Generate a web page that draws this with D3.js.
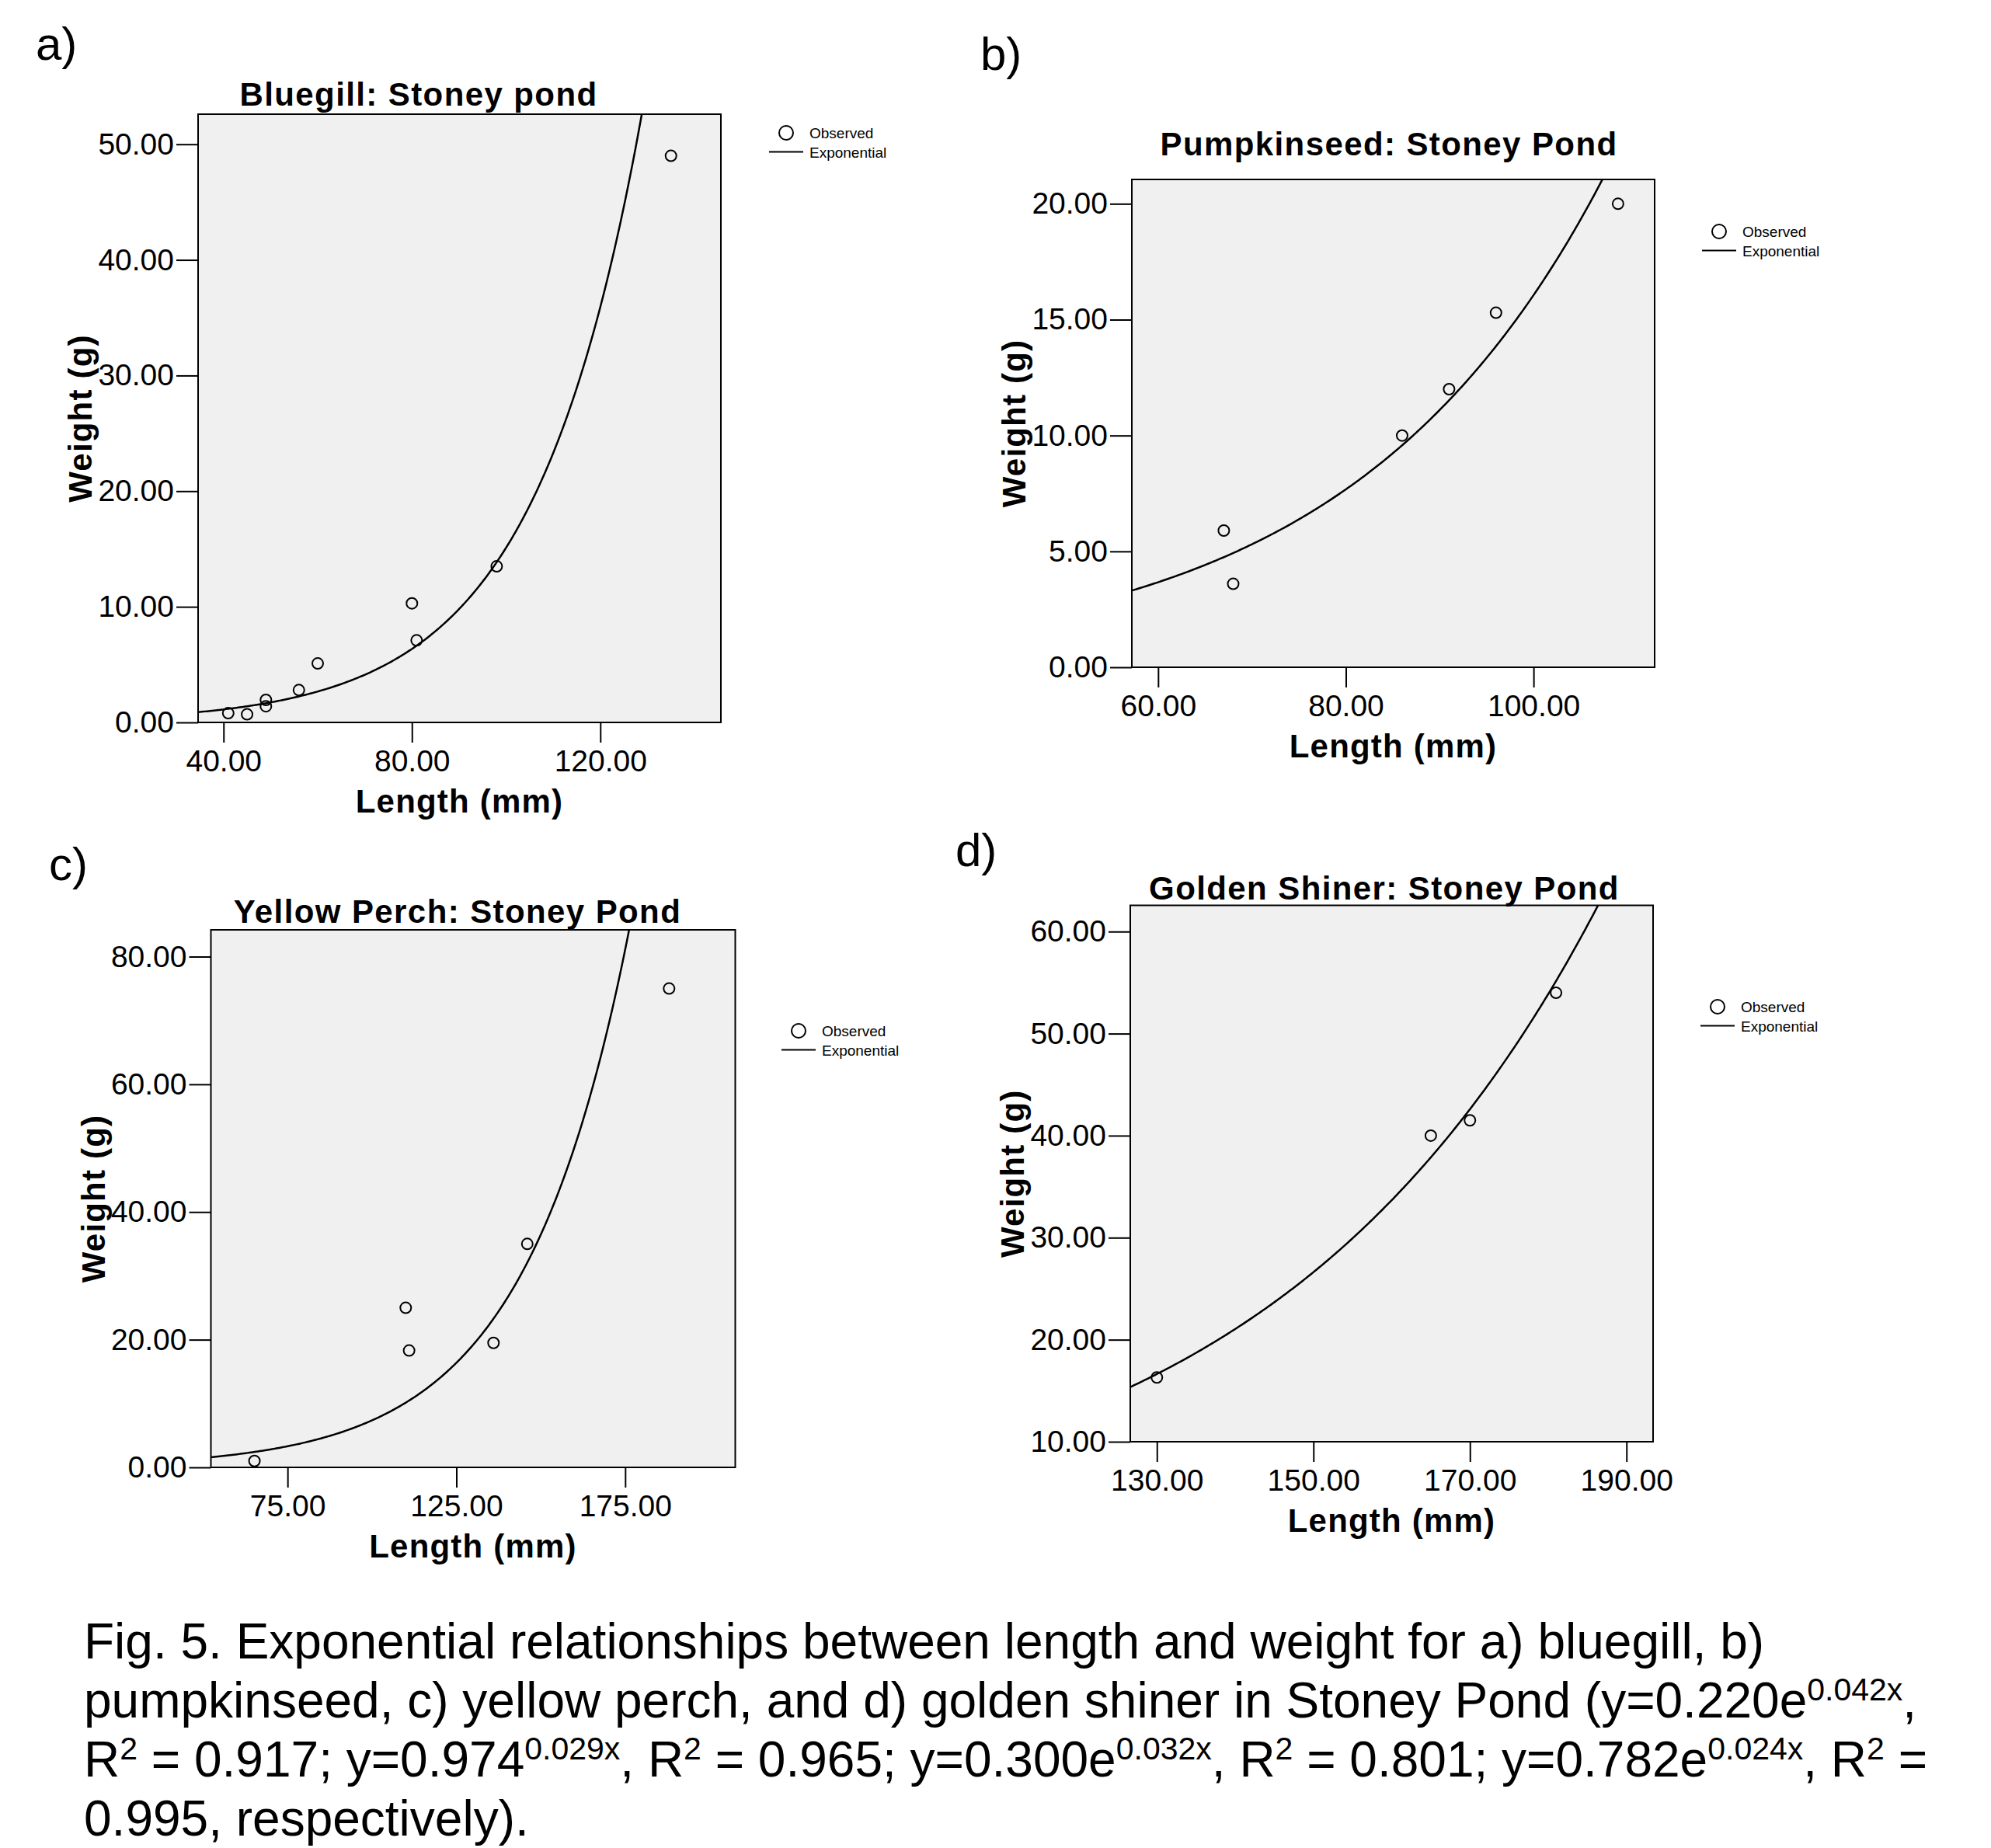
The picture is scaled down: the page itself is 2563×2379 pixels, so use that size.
<!DOCTYPE html>
<html>
<head>
<meta charset="utf-8">
<script src="https://cdn.jsdelivr.net/npm/d3@7"></script>
<style>
  body { margin: 0; background: #fff; }
  svg { display: block; font-family: "Liberation Sans", Arial, sans-serif; }
  .tick text { font-size: 39px; fill: #000; }
  .tick line { stroke: #000; stroke-width: 2px; }
</style>
</head>
<body>
<script>
// observed lengths (mm) and weights (g)
var bluegillLength = [41, 45, 49, 49, 56, 60, 80, 81, 98, 135];
var bluegillWeight = [0.8, 0.7, 1.95, 1.4, 2.8, 5.1, 10.3, 7.1, 13.5, 49.0];
var pumpkinLength = [67, 68, 86, 91, 96, 109];
var pumpkinWeight = [5.9, 3.6, 10.0, 12.0, 15.3, 20.0];
var perchLength = [65.2, 110, 111, 136, 146, 188];
var perchWeight = [1.0, 25.0, 18.3, 19.5, 35.0, 75.0];
var shinerLength = [130, 165, 170, 181];
var shinerWeight = [16.3, 40.0, 41.5, 54.0];

// exponential fit y = a * e^(b x), one per panel
var fitA = [0.199, 0.401, 0.300, 0.784];
var fitB = [0.0433, 0.0369, 0.032, 0.0235];

var panelTitles = ["Bluegill: Stoney pond", "Pumpkinseed: Stoney Pond", "Yellow Perch: Stoney Pond", "Golden Shiner: Stoney Pond"];
var panelLetters = ["a)", "b)", "c)", "d)"];
var xTicks = [[40, 80, 120], [60, 80, 100], [75, 125, 175], [130, 150, 170, 190]];
var yTicks = [[0, 10, 20, 30, 40, 50], [0, 5, 10, 15, 20], [0, 20, 40, 60, 80], [10, 20, 30, 40, 50, 60]];

var panels = [
    {len: bluegillLength, wt: bluegillWeight, box: {l: 255, r: 928, t: 147, b: 930}, xDom: [34.6, 145.6], yDom: [0, 52.6],
     title: [539, 136], letter: [46, 77], legend: [1012, 171]},
    {len: pumpkinLength, wt: pumpkinWeight, box: {l: 1457, r: 2130, t: 231, b: 859}, xDom: [57.2, 112.9], yDom: [0, 21.05],
     title: [1788, 200], letter: [1262, 90], legend: [2213, 298]},
    {len: perchLength, wt: perchWeight, box: {l: 271.5, r: 946.5, t: 1197, b: 1889}, xDom: [52.3, 207.6], yDom: [0, 84.2],
     title: [589, 1188], letter: [63, 1133], legend: [1028, 1327]},
    {len: shinerLength, wt: shinerWeight, box: {l: 1455, r: 2128, t: 1165.5, b: 1856}, xDom: [126.6, 193.4], yDom: [10, 62.57],
     title: [1782, 1158], letter: [1230, 1115], legend: [2211, 1296]}
];

var svg = d3.select("body").append("svg")
    .attr("width", 2563)
    .attr("height", 2379);

svg.append("rect").attr("width", 2563).attr("height", 2379).attr("fill", "#fff");

var fmt = d3.format(".2f");

panels.forEach(function(p, i) {
    var x = d3.scaleLinear().domain(p.xDom).range([p.box.l, p.box.r]);
    var y = d3.scaleLinear().domain(p.yDom).range([p.box.b, p.box.t]);

    svg.append("clipPath").attr("id", "clip" + i)
        .append("rect")
        .attr("x", p.box.l).attr("y", p.box.t)
        .attr("width", p.box.r - p.box.l).attr("height", p.box.b - p.box.t);

    svg.append("rect")
        .attr("x", p.box.l).attr("y", p.box.t)
        .attr("width", p.box.r - p.box.l).attr("height", p.box.b - p.box.t)
        .attr("fill", "#f0f0f0")
        .attr("stroke", "#000")
        .attr("stroke-width", 2);

    // fitted curve
    var xs = d3.range(0, 301).map(function(k) { return p.xDom[0] + (p.xDom[1] - p.xDom[0]) * k / 300; });
    var line = d3.line()
        .x(function(d) { return x(d); })
        .y(function(d) { return y(fitA[i] * Math.exp(fitB[i] * d)); });
    svg.append("path")
        .datum(xs)
        .attr("clip-path", "url(#clip" + i + ")")
        .attr("d", line)
        .attr("fill", "none")
        .attr("stroke", "#000")
        .attr("stroke-width", 2.5);

    svg.append("g").selectAll("circle")
        .data(p.len)
        .enter()
        .append("circle")
        .attr("cx", function(d) { return x(d); })
        .attr("cy", function(d, j) { return y(p.wt[j]); })
        .attr("r", 7)
        .attr("fill", "none")
        .attr("stroke", "#000")
        .attr("stroke-width", 2);

    var yAxis = svg.append("g")
        .attr("transform", "translate(" + p.box.l + ",0)")
        .call(d3.axisLeft(y).tickValues(yTicks[i]).tickSize(28).tickPadding(3).tickFormat(fmt));
    yAxis.select(".domain").remove();

    var xAxis = svg.append("g")
        .attr("transform", "translate(0," + p.box.b + ")")
        .call(d3.axisBottom(x).tickValues(xTicks[i]).tickSize(26).tickPadding(9).tickFormat(fmt));
    xAxis.select(".domain").remove();

    svg.append("text")
        .attr("x", p.title[0]).attr("y", p.title[1])
        .attr("text-anchor", "middle")
        .style("font-size", "42px").style("font-weight", "bold").style("letter-spacing", "1.4px")
        .text(panelTitles[i]);

    svg.append("text")
        .attr("x", (p.box.l + p.box.r) / 2).attr("y", p.box.b + 116)
        .attr("text-anchor", "middle")
        .style("font-size", "42px").style("font-weight", "bold").style("letter-spacing", "1.2px")
        .text("Length (mm)");

    svg.append("text")
        .attr("transform", "translate(" + (p.box.l - 137) + "," + ((p.box.t + p.box.b) / 2) + ") rotate(-90)")
        .attr("text-anchor", "middle")
        .style("font-size", "42px").style("font-weight", "bold").style("letter-spacing", "1.2px")
        .text("Weight (g)");

    svg.append("text")
        .attr("x", p.letter[0]).attr("y", p.letter[1])
        .style("font-size", "60px")
        .text(panelLetters[i]);

    // legend
    var lg = svg.append("g").attr("transform", "translate(" + p.legend[0] + "," + p.legend[1] + ")");
    lg.append("circle").attr("r", 9).attr("fill", "none").attr("stroke", "#000").attr("stroke-width", 2);
    lg.append("text").attr("x", 30).attr("y", 7).style("font-size", "19px").text("Observed");
    lg.append("line").attr("x1", -22).attr("x2", 22).attr("y1", 24.5).attr("y2", 24.5)
        .attr("stroke", "#000").attr("stroke-width", 2);
    lg.append("text").attr("x", 30).attr("y", 32).style("font-size", "19px").text("Exponential");
});

// caption, with superscripts flagged by 1
var captionLines = [
    [["Fig. 5. Exponential relationships between length and weight for a) bluegill, b)", 0]],
    [["pumpkinseed, c) yellow perch, and d) golden shiner in Stoney Pond (y=0.220e", 0], ["0.042x", 1], [",", 0]],
    [["R", 0], ["2", 1], [" = 0.917; y=0.974", 0], ["0.029x", 1], [", R", 0], ["2", 1], [" = 0.965; y=0.300e", 0], ["0.032x", 1],
     [", R", 0], ["2", 1], [" = 0.801; y=0.782e", 0], ["0.024x", 1], [", R", 0], ["2", 1], [" =", 0]],
    [["0.995, respectively).", 0]]
];
var captionBase = [2135, 2211, 2287, 2363];
var supShift = 22;

captionLines.forEach(function(parts, li) {
    var t = svg.append("text")
        .attr("x", 108).attr("y", captionBase[li])
        .style("font-size", "64px");
    parts.forEach(function(pt, k) {
        var prevSup = k > 0 ? parts[k - 1][1] : 0;
        var ts = t.append("tspan").text(pt[0]);
        if (pt[1]) ts.style("font-size", "41px");
        ts.attr("dy", pt[1] && !prevSup ? -supShift : (!pt[1] && prevSup ? supShift : 0));
    });
});
</script>
</body>
</html>
